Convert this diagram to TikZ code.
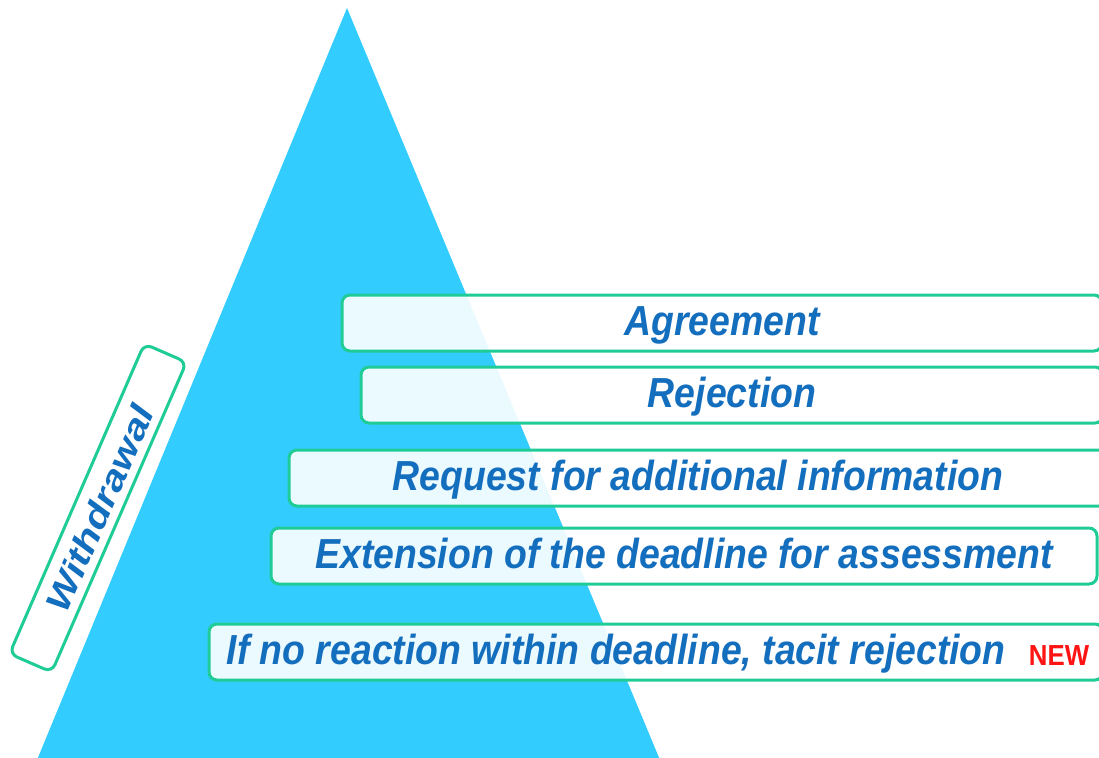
\documentclass[tikz,border=0pt]{standalone}
\usepackage{fontspec}
\setmainfont{Liberation Sans}
\newfontfamily\boxfont[FakeStretch=0.89]{Liberation Sans}
\newfontfamily\sidefont[FakeStretch=1.22]{Liberation Sans}
\definecolor{pyr}{RGB}{51,204,255}
\definecolor{edge}{RGB}{32,204,150}
\definecolor{ink}{RGB}{20,110,190}
\definecolor{newred}{RGB}{255,20,20}
\tikzset{
 stepbox/.style={draw=edge,line width=3pt,rounded corners=8pt,fill=white,fill opacity=.9,text opacity=1,
  minimum height=56pt,inner sep=0pt,text=ink,font=\boxfont\bfseries\itshape\fontsize{42}{48}\selectfont,
  text height=33pt,text depth=9pt},
 lbl/.style={text=ink,font=\boxfont\bfseries\itshape\fontsize{42}{48}\selectfont,inner sep=0pt,
  text height=33pt,text depth=9pt}
}
\begin{document}
\begin{tikzpicture}[x=1pt,y=-1pt]
 \useasboundingbox (0,0) rectangle (1099,757);
 \clip (0,0) rectangle (1099,757);
 \fill[pyr] (347,8) -- (37,760) -- (660,760) -- cycle;
 \node[stepbox,minimum width=760pt] (agree) at (722,323) {Agreement};
 \node[stepbox,minimum width=742pt] (reject) at (732,395) {Rejection};
 \node[stepbox,minimum width=818pt] (request) at (698,478) {Request for additional information};
 \node[stepbox,minimum width=826pt] (extend) at (684,556) {Extension of the deadline for assessment};
 \node[stepbox,minimum width=894pt] (noreact) at (656,652) {};
 \node[lbl,anchor=west] (noreacttxt) at ([xshift=19pt]noreact.west)
  {If no reaction within deadline, tacit rejection};
 \node[text=newred,font=\boxfont\bfseries\fontsize{29}{32}\selectfont,inner sep=0pt] (new) at (1059,656) {NEW};
 \node[stepbox,rotate=66.5,minimum width=338pt,minimum height=46pt,fill opacity=1,
  font=\sidefont\bfseries\itshape\fontsize{34}{38}\selectfont,text height=28pt,text depth=0pt] (withdraw) at (98,508) {Withdrawal};
\end{tikzpicture}
\end{document}
